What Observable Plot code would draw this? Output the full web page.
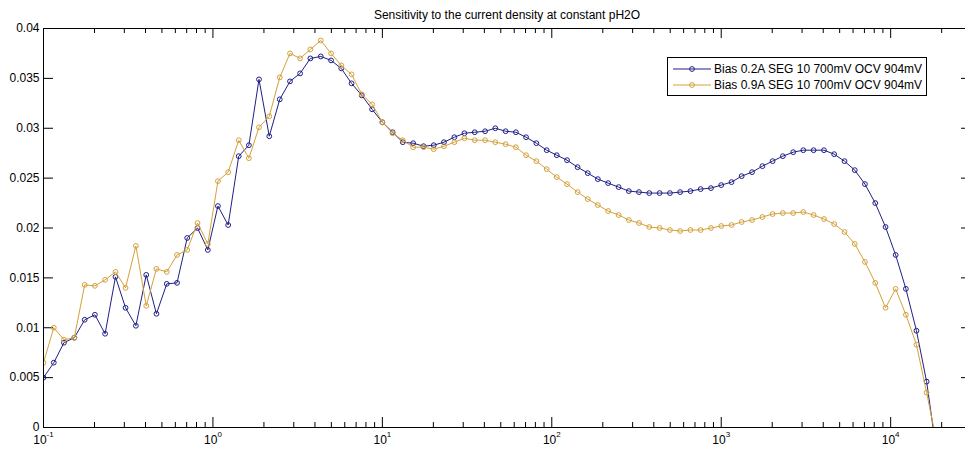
<!DOCTYPE html>
<html>
<head>
<meta charset="utf-8">
<script src="https://cdn.jsdelivr.net/npm/d3@7"></script>
<script src="https://cdn.jsdelivr.net/npm/@observablehq/plot@0.6"></script>
<style>
  body { margin: 0; background: #fff; font-family: "Liberation Sans", Arial, sans-serif; }
  #wrap { position: relative; width: 965px; height: 449px; overflow: hidden; background: #fff; }
  #title { position: relative; height: 22px; font-size: 12px; color: #000; }
  #title span { position: absolute; top: 7.5px; left: 507px; transform: translateX(-50%); white-space: nowrap; line-height: normal; }
  #legend { position: absolute; left: 667px; top: 57px; width: 258px; height: 37px; border: 1px solid #000; background: #fff; font-size: 12px; color: #000; }
  #legend .swatch { position: absolute; left: 5px; width: 38px; height: 12px; }
  #legend .label { position: absolute; left: 46px; line-height: 14px; white-space: nowrap; }
</style>
</head>
<body>
<div id="wrap">
  <div id="title"><span>Sensitivity to the current density at constant pH2O</span></div>
  <div id="chart"></div>
  <div id="legend"></div>
</div>
<script>
// Frequency grid (Hz), log-spaced sweep
const frequency = [
  0.1, 0.115, 0.132, 0.152, 0.175, 0.201, 0.231, 0.266, 0.305, 0.351, 0.404, 0.464, 0.534, 0.614, 0.705, 0.811, 0.933,
  1.07, 1.23, 1.42, 1.63, 1.87, 2.15, 2.48, 2.85, 3.27, 3.76, 4.33, 4.98, 5.72, 6.58, 7.56, 8.70,
  10.0, 11.5, 13.2, 15.2, 17.5, 20.1, 23.1, 26.6, 30.5, 35.1, 40.4, 46.4, 53.4, 61.4, 70.5, 81.1, 93.3,
  107, 123, 142, 163, 187, 215, 248, 285, 327, 376, 433, 498, 572, 658, 756, 870,
  1000, 1150, 1320, 1520, 1750, 2010, 2310, 2660, 3050, 3510, 4040, 4640, 5340, 6140, 7050, 8110, 9330,
  10700, 12300, 14200, 16300, 18700
];

// Sensitivity, bias 0.2 A
const bias02 = [
  0.0050, 0.0065, 0.0085, 0.0090, 0.0108, 0.0113, 0.0094, 0.0151, 0.0120, 0.0102, 0.0153, 0.0114, 0.0144, 0.0145, 0.0190, 0.0200, 0.0178,
  0.0222, 0.0203, 0.0272, 0.0283, 0.0349, 0.0292, 0.0329, 0.0347, 0.0355, 0.0370, 0.0372, 0.0368, 0.0360, 0.0345, 0.0333, 0.0319,
  0.0306, 0.0296, 0.0286, 0.0285, 0.0282, 0.0283, 0.0286, 0.0291, 0.0295, 0.0296, 0.0297, 0.0300, 0.0297, 0.0296, 0.0291, 0.0285, 0.0278,
  0.0273, 0.0268, 0.0261, 0.0255, 0.0249, 0.0245, 0.0241, 0.0237, 0.0236, 0.0235, 0.0235, 0.0235, 0.0236, 0.0237, 0.0239, 0.0240,
  0.0243, 0.0246, 0.0252, 0.0256, 0.0262, 0.0267, 0.0272, 0.0276, 0.0278, 0.0278, 0.0278, 0.0274, 0.0267, 0.0258, 0.0244, 0.0225, 0.0201,
  0.0173, 0.0139, 0.0097, 0.0046, -0.0026
];

// Sensitivity, bias 0.9 A
const bias09 = [
  0.0065, 0.0100, 0.0088, 0.0090, 0.0143, 0.0142, 0.0148, 0.0156, 0.0140, 0.0182, 0.0122, 0.0159, 0.0156, 0.0173, 0.0178, 0.0205, 0.0184,
  0.0247, 0.0256, 0.0288, 0.0270, 0.0301, 0.0312, 0.0351, 0.0375, 0.0370, 0.0379, 0.0388, 0.0375, 0.0363, 0.0354, 0.0334, 0.0324,
  0.0306, 0.0295, 0.0288, 0.0281, 0.0281, 0.0279, 0.0282, 0.0286, 0.0290, 0.0288, 0.0288, 0.0286, 0.0284, 0.0281, 0.0273, 0.0267, 0.0259,
  0.0251, 0.0244, 0.0236, 0.0229, 0.0223, 0.0217, 0.0213, 0.0208, 0.0205, 0.0201, 0.0200, 0.0198, 0.0197, 0.0198, 0.0198, 0.0200,
  0.0202, 0.0203, 0.0206, 0.0208, 0.0211, 0.0214, 0.0215, 0.0215, 0.0216, 0.0213, 0.0209, 0.0204, 0.0196, 0.0184, 0.0166, 0.0145, 0.0120,
  0.0139, 0.0113, 0.0083, 0.0035, -0.0015
];

const seriesNames = ["Bias 0.2A SEG 10 700mV OCV 904mV", "Bias 0.9A SEG 10 700mV OCV 904mV"];
const seriesColors = ["#1f1f86", "#d4a13a"];

// Axis ticks
const xMajorTicks = [0.1, 1, 10, 100, 1000, 10000];
const xExponents = ["-1", "0", "1", "2", "3", "4"];
const xMinorTicks = [2, 3, 4, 5, 6, 7, 8, 9].flatMap(m => [0.1, 1, 10, 100, 1000, 10000].map(p => +(m * p).toPrecision(3))).filter(v => v < 30000);
const yTicks = [0, 0.005, 0.01, 0.015, 0.02, 0.025, 0.03, 0.035, 0.04];
const yTickLabels = ["0", "0.005", "0.01", "0.015", "0.02", "0.025", "0.03", "0.035", "0.04"];

const rows02 = frequency.map((f, i) => ({f, v: bias02[i]}));
const rows09 = frequency.map((f, i) => ({f, v: bias09[i]}));

const W = 965, H = 427;
const mL = 43, mR = -6, mT = 6, mB = 22;
const plotW = W - mL - mR, plotH = H - mT - mB;
const major = 10, minor = 5;

const chart = Plot.plot({
  width: W, height: H,
  marginLeft: mL, marginRight: mR, marginTop: mT, marginBottom: mB,
  style: {fontFamily: "'Liberation Sans', Arial, sans-serif", fontSize: "12px", color: "#000", background: "#fff", maxWidth: "none"},
  x: {type: "log", domain: [0.1, 30000]},
  y: {domain: [0, 0.04]},
  marks: [
    // inward ticks on all four sides
    Plot.tickX(xMajorTicks, {x: d => d, insetTop: plotH - major, stroke: "#000"}),
    Plot.tickX(xMajorTicks, {x: d => d, insetBottom: plotH - major, stroke: "#000"}),
    Plot.tickX(xMinorTicks, {x: d => d, insetTop: plotH - minor, stroke: "#000"}),
    Plot.tickX(xMinorTicks, {x: d => d, insetBottom: plotH - minor, stroke: "#000"}),
    Plot.tickY(yTicks, {y: d => d, insetRight: plotW - major, stroke: "#000"}),
    Plot.tickY(yTicks, {y: d => d, insetLeft: plotW - major, stroke: "#000"}),
    Plot.axisX({ticks: xMajorTicks, tickSize: 0, tickPadding: 8, label: null,
      tickFormat: d => "10^" + xExponents[xMajorTicks.indexOf(d)]}),
    Plot.axisY({ticks: yTicks, tickSize: 0, tickPadding: 4, label: null,
      tickFormat: d => yTickLabels[yTicks.indexOf(d)]}),
    // series
    Plot.line(rows02, {x: "f", y: "v", stroke: seriesColors[0], strokeWidth: 1, clip: true}),
    Plot.dot(rows02, {x: "f", y: "v", r: 2.4, stroke: seriesColors[0], fill: "none", strokeWidth: 1, clip: true}),
    Plot.line(rows09, {x: "f", y: "v", stroke: seriesColors[1], strokeWidth: 1, clip: true}),
    Plot.dot(rows09, {x: "f", y: "v", r: 2.4, stroke: seriesColors[1], fill: "none", strokeWidth: 1, clip: true}),
    Plot.frame({stroke: "#000"})
  ]
});

// Power-of-ten labels with a raised exponent
chart.querySelectorAll('g[aria-label="x-axis tick label"] text').forEach(t => {
  const [base, exp] = t.textContent.split("^");
  t.textContent = base;
  const sup = document.createElementNS("http://www.w3.org/2000/svg", "tspan");
  sup.setAttribute("dy", "-7");
  sup.setAttribute("font-size", "8");
  sup.textContent = exp;
  t.appendChild(sup);
});

document.getElementById("chart").appendChild(chart);

// Legend
const legend = document.getElementById("legend");
const rowCenters = [10.5, 27];
seriesNames.forEach((name, i) => {
  const sw = document.createElementNS("http://www.w3.org/2000/svg", "svg");
  sw.setAttribute("class", "swatch");
  sw.setAttribute("width", "38");
  sw.setAttribute("height", "12");
  sw.style.top = (rowCenters[i] - 6) + "px";
  sw.innerHTML = `<line x1="0" x2="38" y1="6" y2="6" stroke="${seriesColors[i]}" stroke-width="1"/>` +
    `<circle cx="19" cy="6" r="2.4" fill="none" stroke="${seriesColors[i]}" stroke-width="1"/>`;
  legend.appendChild(sw);
  const lab = document.createElement("div");
  lab.className = "label";
  lab.style.top = (rowCenters[i] - 7) + "px";
  lab.textContent = name;
  legend.appendChild(lab);
});
</script>
</body>
</html>
